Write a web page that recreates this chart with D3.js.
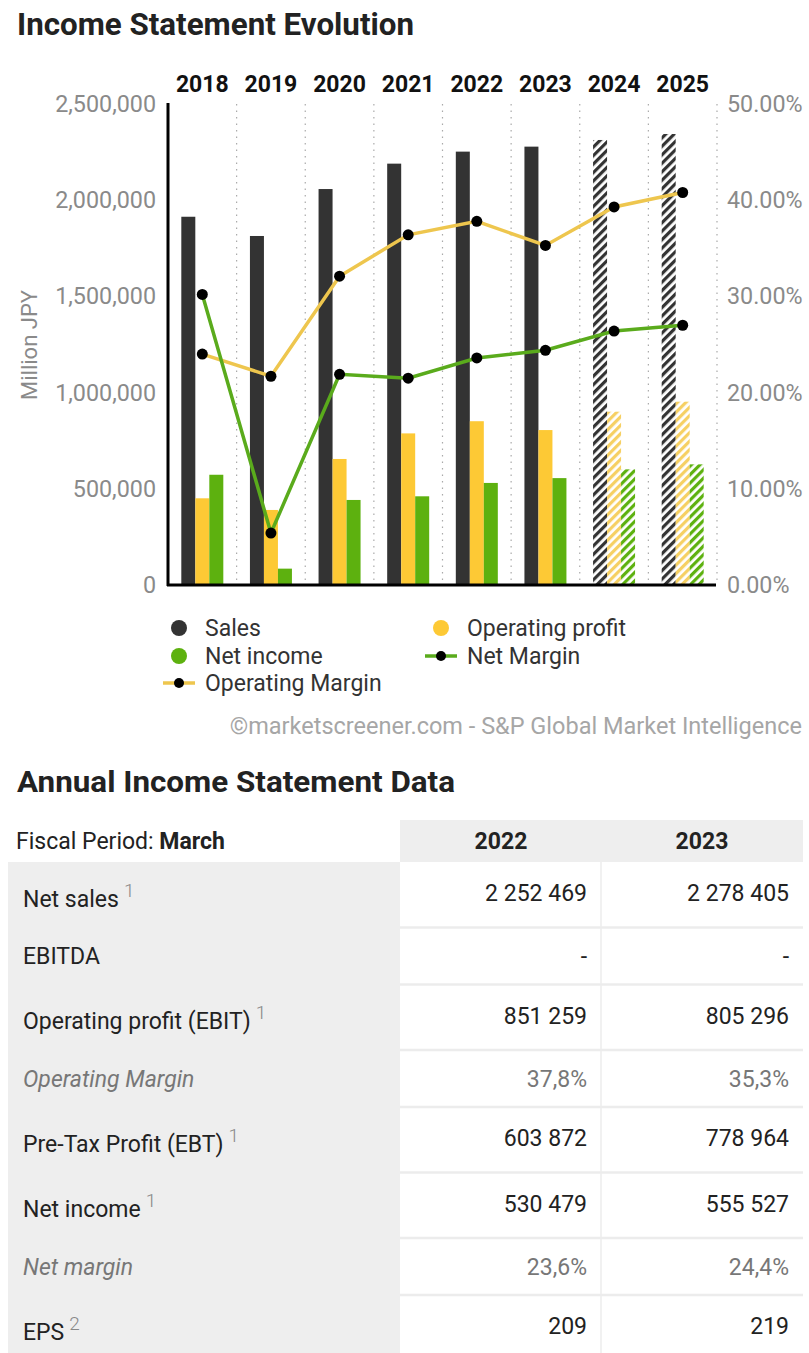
<!DOCTYPE html>
<meta charset="utf-8">
<style>
html, body { margin: 0; padding: 0; background: #fff; }
svg { display: block; font-family: Roboto, "Noto Sans", sans-serif; }
</style>
<body>
<div id="chart"></div>
<script src="https://cdnjs.cloudflare.com/ajax/libs/d3/7.8.5/d3.min.js"></script>
<script>

// Data (Million JPY, margins in %)
var years = ["2018", "2019", "2020", "2021", "2022", "2023", "2024", "2025"];
var forecast = [false, false, false, false, false, false, true, true];
var sales = [1914000, 1814000, 2058000, 2190000, 2252469, 2278405, 2313000, 2344000];
var opProfit = [450600, 390000, 655000, 788000, 851259, 805296, 900700, 952700];
var netIncome = [573000, 85000, 442000, 461000, 530479, 555527, 601000, 627000];
var opMargin = [24.0, 21.7, 32.1, 36.4, 37.8, 35.3, 39.3, 40.8];
var netMargin = [30.2, 5.4, 21.9, 21.5, 23.6, 24.4, 26.4, 27.0];

var leftTicks = [0, 500000, 1000000, 1500000, 2000000, 2500000];
var rightTicks = [0, 10, 20, 30, 40, 50];

// Table data
var tableYears = ["2022", "2023"];
var rowLabels = ["Net sales", "EBITDA", "Operating profit (EBIT)", "Operating Margin",
                 "Pre-Tax Profit (EBT)", "Net income", "Net margin", "EPS"];
var rowSup = ["1", "", "1", "", "1", "1", "", "2"];
var rowItalic = [false, false, false, true, false, false, true, false];
var values2022 = ["2 252 469", "-", "851 259", "37,8%", "603 872", "530 479", "23,6%", "209"];
var values2023 = ["2 278 405", "-", "805 296", "35,3%", "778 964", "555 527", "24,4%", "219"];

var width = 809, height = 1353;

var colSales = "#333333", colOp = "#fdc935", colNet = "#5db10f";
var colOpLine = "#eec64e", colNetLine = "#5aab1c";

var svg = d3.select("#chart").append("svg")
  .attr("width", width).attr("height", height);

// hatch patterns for estimates
var defs = svg.append("defs");
function hatch(id, color) {
  var p = defs.append("pattern")
    .attr("id", id)
    .attr("patternUnits", "userSpaceOnUse")
    .attr("width", 6).attr("height", 6)
    .attr("patternTransform", "rotate(45)");
  p.append("rect").attr("width", 6).attr("height", 6).attr("fill", "#fff");
  p.append("rect").attr("width", 3.2).attr("height", 6).attr("fill", color);
}
hatch("h-sales", colSales);
hatch("h-op", "#f6d063");
hatch("h-net", colNet);

// Title
svg.append("text")
  .attr("x", 17).attr("y", 35)
  .attr("font-size", 31).attr("font-weight", 700).attr("fill", "#222")
  .attr("textLength", 397).attr("lengthAdjust", "spacingAndGlyphs")
  .text("Income Statement Evolution");

// Scales
var x = d3.scaleBand().domain(years).range([168, 717]).padding(0);
var y = d3.scaleLinear().domain([0, 2500000]).range([585, 104]);
var y2 = d3.scaleLinear().domain([0, 50]).range([585, 104]);
var barW = 14;

// dotted separators
svg.append("g").selectAll("line")
  .data(years)
  .enter().append("line")
  .attr("x1", function(d) { return x(d) + x.bandwidth(); })
  .attr("x2", function(d) { return x(d) + x.bandwidth(); })
  .attr("y1", 104).attr("y2", 585)
  .attr("stroke", "#aaa").attr("stroke-width", 1.2)
  .attr("stroke-dasharray", "1.5,5");

// year labels on top
svg.append("g").selectAll("text")
  .data(years)
  .enter().append("text")
  .attr("x", function(d) { return x(d) + x.bandwidth() / 2; })
  .attr("y", 92)
  .attr("text-anchor", "middle")
  .attr("font-size", 23).attr("font-weight", 700).attr("fill", "#111")
  .text(function(d) { return d; });

// left axis
var leftAxis = svg.append("g").attr("transform", "translate(168,0)")
  .call(d3.axisLeft(y).tickValues(leftTicks).tickFormat(d3.format(",")).tickSize(0).tickPadding(12));
leftAxis.select(".domain").remove();
leftAxis.selectAll("text").attr("font-size", 23.3).attr("fill", "#8a8a8a").attr("font-family", "Roboto");

// right axis
var rightAxis = svg.append("g").attr("transform", "translate(717,0)")
  .call(d3.axisRight(y2).tickValues(rightTicks).tickFormat(function(d) { return d3.format(".2f")(d) + "%"; }).tickSize(0).tickPadding(10));
rightAxis.select(".domain").remove();
rightAxis.selectAll("text").attr("font-size", 23.3).attr("fill", "#8a8a8a").attr("font-family", "Roboto");

// y axis title
svg.append("text")
  .attr("transform", "translate(37,345) rotate(-90)")
  .attr("text-anchor", "middle")
  .attr("font-size", 22).attr("fill", "#8a8a8a")
  .text("Million JPY");

// bars
function bars(vals, offset, color, hatchId) {
  svg.append("g").selectAll("rect")
    .data(vals)
    .enter().append("rect")
    .attr("x", function(d, i) { return x(years[i]) + x.bandwidth() / 2 - 1.5 * barW + offset * barW; })
    .attr("y", function(d) { return y(d); })
    .attr("width", barW)
    .attr("height", function(d) { return y(0) - y(d); })
    .attr("fill", function(d, i) { return forecast[i] ? "url(#" + hatchId + ")" : color; });
}
bars(sales, 0, colSales, "h-sales");
bars(opProfit, 1, colOp, "h-op");
bars(netIncome, 2, colNet, "h-net");

// axis lines
svg.append("line").attr("x1", 168).attr("x2", 168).attr("y1", 103).attr("y2", 586)
  .attr("stroke", "#000").attr("stroke-width", 3);
svg.append("line").attr("x1", 167).attr("x2", 716).attr("y1", 585).attr("y2", 585)
  .attr("stroke", "#000").attr("stroke-width", 3);

// margin lines
function marginLine(vals, color) {
  var line = d3.line()
    .x(function(d, i) { return x(years[i]) + x.bandwidth() / 2; })
    .y(function(d) { return y2(d); });
  svg.append("path").datum(vals)
    .attr("d", line).attr("fill", "none")
    .attr("stroke", color).attr("stroke-width", 3.5);
  svg.append("g").selectAll("circle")
    .data(vals)
    .enter().append("circle")
    .attr("cx", function(d, i) { return x(years[i]) + x.bandwidth() / 2; })
    .attr("cy", function(d) { return y2(d); })
    .attr("r", 5.5).attr("fill", "#000");
}
marginLine(opMargin, colOpLine);
marginLine(netMargin, colNetLine);

// legend
var legend = [
  {name: "Sales", type: "dot", color: colSales, x: 179, y: 628},
  {name: "Operating profit", type: "dot", color: colOp, x: 441, y: 628},
  {name: "Net income", type: "dot", color: colNet, x: 179, y: 656},
  {name: "Net Margin", type: "line", color: colNetLine, x: 441, y: 656},
  {name: "Operating Margin", type: "line", color: colOpLine, x: 179, y: 683}
];
var lg = svg.append("g");
legend.forEach(function(l) {
  if (l.type === "dot") {
    lg.append("circle").attr("cx", l.x).attr("cy", l.y).attr("r", 8).attr("fill", l.color);
  } else {
    lg.append("line").attr("x1", l.x - 16).attr("x2", l.x + 16).attr("y1", l.y).attr("y2", l.y)
      .attr("stroke", l.color).attr("stroke-width", 3.5);
    lg.append("circle").attr("cx", l.x).attr("cy", l.y).attr("r", 5).attr("fill", "#000");
  }
  lg.append("text").attr("x", l.x + 26).attr("y", l.y + 8)
    .attr("font-size", 23).attr("fill", "#333").text(l.name);
});

svg.append("text")
  .attr("x", 802).attr("y", 734).attr("text-anchor", "end")
  .attr("font-size", 23.5).attr("fill", "#a6a6a6")
  .text("\u00a9marketscreener.com - S&P Global Market Intelligence");

// ---- Table ----
svg.append("text")
  .attr("x", 17).attr("y", 792)
  .attr("font-size", 30).attr("font-weight", 700).attr("fill", "#222")
  .attr("textLength", 438).attr("lengthAdjust", "spacingAndGlyphs")
  .text("Annual Income Statement Data");

var tLeft = 8, tMid = 400, tRight = 803, tDiv = 601;
var colRight = [587, 789], colCenter = [501, 702];
var fs = 23;

svg.append("rect").attr("x", tMid).attr("y", 820).attr("width", tRight - tMid).attr("height", 42).attr("fill", "#eeeeee");

var fp = svg.append("text").attr("x", 16).attr("y", 849).attr("font-size", fs).attr("fill", "#222");
fp.append("tspan").text("Fiscal Period: ");
fp.append("tspan").attr("font-weight", 700).text("March");

svg.append("g").selectAll("text")
  .data(tableYears)
  .enter().append("text")
  .attr("x", function(d, i) { return colCenter[i]; })
  .attr("y", 849)
  .attr("text-anchor", "middle")
  .attr("font-size", fs).attr("font-weight", 700).attr("fill", "#222")
  .text(function(d) { return d; });

// row positions
var rowTop = [], yy = 862;
rowLabels.forEach(function(d, i) {
  var h = rowSup[i] ? 65.5 : 57;
  rowTop.push({top: yy, h: h});
  yy += h;
});

svg.append("rect").attr("x", tLeft).attr("y", 862).attr("width", tMid - tLeft).attr("height", height - 862).attr("fill", "#eeeeee");

var rows = svg.append("g").selectAll("g")
  .data(rowLabels)
  .enter().append("g");

rows.append("line")
  .attr("x1", tMid).attr("x2", tRight)
  .attr("y1", function(d, i) { return rowTop[i].top + rowTop[i].h; })
  .attr("y2", function(d, i) { return rowTop[i].top + rowTop[i].h; })
  .attr("stroke", "#ececec").attr("stroke-width", 2.5);

var lab = rows.append("text")
  .attr("x", 23)
  .attr("y", function(d, i) { return rowTop[i].top + rowTop[i].h / 2 + (rowSup[i] ? 12 : 8); })
  .attr("font-size", fs)
  .attr("font-style", function(d, i) { return rowItalic[i] ? "italic" : "normal"; })
  .attr("fill", function(d, i) { return rowItalic[i] ? "#777" : "#222"; });
lab.append("tspan").text(function(d) { return d; });
lab.append("tspan")
  .attr("dx", 5).attr("dy", -10)
  .attr("font-size", 19).attr("font-weight", 300).attr("fill", "#888")
  .text(function(d, i) { return rowSup[i]; });

[values2022, values2023].forEach(function(vals, c) {
  rows.append("text")
    .attr("x", colRight[c])
    .attr("y", function(d, i) { return rowTop[i].top + rowTop[i].h / 2 + (rowSup[i] ? 6.5 : 8); })
    .attr("text-anchor", "end")
    .attr("font-size", fs)
    .attr("fill", function(d, i) { return rowItalic[i] ? "#777" : "#222"; })
    .text(function(d, i) { return vals[i]; });
});

svg.append("line").attr("x1", tDiv).attr("x2", tDiv).attr("y1", 862).attr("y2", height)
  .attr("stroke", "#ececec").attr("stroke-width", 1.5);

</script>
